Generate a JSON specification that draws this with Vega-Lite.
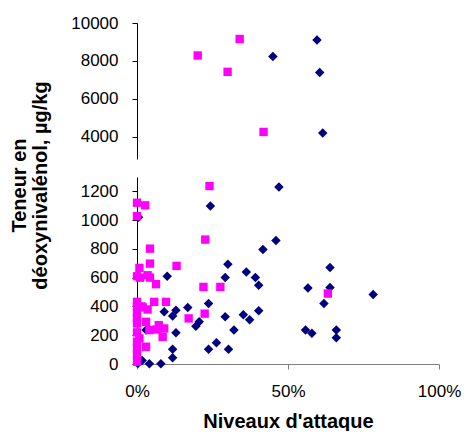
{
  "$schema": "https://vega.github.io/schema/vega-lite/v6.json",
  "padding": {"left": 9, "top": 14, "right": 2, "bottom": 0},
  "spacing": 18,
  "bounds": "flush",
  "config": {
    "view": {"stroke": null},
    "font": "Liberation Sans",
    "axis": {
      "labelFont": "Liberation Sans", "labelFontSize": 17, "labelColor": "#000000",
      "grid": false, "domainColor": "#000000", "tickColor": "#000000", "tickSize": 5,
      "titleFont": "Liberation Sans", "titleFontSize": 20, "titleFontWeight": "bold", "titleColor": "#000000"
    }
  },
  "datasets": {
    "pts": [
      {"p": "h", "s": "A", "x": 45.0, "y": 8240},
      {"p": "h", "s": "A", "x": 59.6, "y": 9100},
      {"p": "h", "s": "A", "x": 60.5, "y": 7400},
      {"p": "h", "s": "A", "x": 61.5, "y": 4210},
      {"p": "b", "s": "A", "x": 47.0, "y": 1230},
      {"p": "b", "s": "A", "x": 24.3, "y": 1098},
      {"p": "b", "s": "A", "x": 46.0, "y": 858},
      {"p": "b", "s": "A", "x": 41.7, "y": 796},
      {"p": "b", "s": "A", "x": 30.1, "y": 693},
      {"p": "b", "s": "A", "x": 36.2, "y": 640},
      {"p": "b", "s": "A", "x": 29.2, "y": 601},
      {"p": "b", "s": "A", "x": 39.2, "y": 601},
      {"p": "b", "s": "A", "x": 10.0, "y": 610},
      {"p": "b", "s": "A", "x": 40.3, "y": 548},
      {"p": "b", "s": "A", "x": 63.9, "y": 671},
      {"p": "b", "s": "A", "x": 56.6, "y": 529},
      {"p": "b", "s": "A", "x": 63.9, "y": 532},
      {"p": "b", "s": "A", "x": 61.9, "y": 421},
      {"p": "b", "s": "A", "x": 78.2, "y": 483},
      {"p": "b", "s": "A", "x": 23.7, "y": 421},
      {"p": "b", "s": "A", "x": 16.8, "y": 393},
      {"p": "b", "s": "A", "x": 12.9, "y": 374},
      {"p": "b", "s": "A", "x": 9.0, "y": 363},
      {"p": "b", "s": "A", "x": 11.8, "y": 333},
      {"p": "b", "s": "A", "x": 40.3, "y": 370},
      {"p": "b", "s": "A", "x": 29.2, "y": 328},
      {"p": "b", "s": "A", "x": 35.2, "y": 343},
      {"p": "b", "s": "A", "x": 37.3, "y": 308},
      {"p": "b", "s": "A", "x": 20.6, "y": 294},
      {"p": "b", "s": "A", "x": 19.5, "y": 262},
      {"p": "b", "s": "A", "x": 32.1, "y": 236},
      {"p": "b", "s": "A", "x": 12.9, "y": 217},
      {"p": "b", "s": "A", "x": 3.0, "y": 236},
      {"p": "b", "s": "A", "x": 26.3, "y": 148},
      {"p": "b", "s": "A", "x": 23.7, "y": 102},
      {"p": "b", "s": "A", "x": 30.3, "y": 102},
      {"p": "b", "s": "A", "x": 11.8, "y": 102},
      {"p": "b", "s": "A", "x": 11.8, "y": 44},
      {"p": "b", "s": "A", "x": 7.9, "y": 2},
      {"p": "b", "s": "A", "x": 4.1, "y": 2},
      {"p": "b", "s": "A", "x": 1.7, "y": 25},
      {"p": "b", "s": "A", "x": 0.5, "y": 1021},
      {"p": "b", "s": "A", "x": 55.8, "y": 236},
      {"p": "b", "s": "A", "x": 57.9, "y": 213},
      {"p": "b", "s": "A", "x": 66.0, "y": 236},
      {"p": "b", "s": "A", "x": 66.0, "y": 182},
      {"p": "b", "s": "A", "x": 0.3, "y": 3},
      {"p": "h", "s": "B", "x": 34.0, "y": 9160},
      {"p": "h", "s": "B", "x": 20.1, "y": 8290},
      {"p": "h", "s": "B", "x": 30.0, "y": 7430},
      {"p": "h", "s": "B", "x": 41.9, "y": 4265},
      {"p": "b", "s": "B", "x": 24.0, "y": 1237},
      {"p": "b", "s": "B", "x": 0.0, "y": 1121},
      {"p": "b", "s": "B", "x": 2.7, "y": 1103},
      {"p": "b", "s": "B", "x": 0.0, "y": 1028},
      {"p": "b", "s": "B", "x": 22.6, "y": 865},
      {"p": "b", "s": "B", "x": 4.3, "y": 802},
      {"p": "b", "s": "B", "x": 4.3, "y": 698},
      {"p": "b", "s": "B", "x": 0.8, "y": 668},
      {"p": "b", "s": "B", "x": 13.1, "y": 682},
      {"p": "b", "s": "B", "x": 0.0, "y": 610},
      {"p": "b", "s": "B", "x": 1.0, "y": 600},
      {"p": "b", "s": "B", "x": 3.5, "y": 617},
      {"p": "b", "s": "B", "x": 4.3, "y": 601},
      {"p": "b", "s": "B", "x": 6.3, "y": 555},
      {"p": "b", "s": "B", "x": 22.0, "y": 536},
      {"p": "b", "s": "B", "x": 27.6, "y": 536},
      {"p": "b", "s": "B", "x": 0.0, "y": 432},
      {"p": "b", "s": "B", "x": 5.7, "y": 432},
      {"p": "b", "s": "B", "x": 9.6, "y": 432},
      {"p": "b", "s": "B", "x": 1.5, "y": 400},
      {"p": "b", "s": "B", "x": 0.0, "y": 395},
      {"p": "b", "s": "B", "x": 1.9, "y": 393},
      {"p": "b", "s": "B", "x": 3.5, "y": 379},
      {"p": "b", "s": "B", "x": 0.0, "y": 356},
      {"p": "b", "s": "B", "x": 22.4, "y": 350},
      {"p": "b", "s": "B", "x": 0.0, "y": 320},
      {"p": "b", "s": "B", "x": 17.1, "y": 317},
      {"p": "b", "s": "B", "x": 3.0, "y": 293},
      {"p": "b", "s": "B", "x": 0.0, "y": 282},
      {"p": "b", "s": "B", "x": 7.2, "y": 270},
      {"p": "b", "s": "B", "x": 9.0, "y": 247},
      {"p": "b", "s": "B", "x": 6.5, "y": 240},
      {"p": "b", "s": "B", "x": 4.1, "y": 236},
      {"p": "b", "s": "B", "x": 0.0, "y": 220},
      {"p": "b", "s": "B", "x": 8.5, "y": 189},
      {"p": "b", "s": "B", "x": 0.8, "y": 178},
      {"p": "b", "s": "B", "x": 0.0, "y": 155},
      {"p": "b", "s": "B", "x": 3.0, "y": 120},
      {"p": "b", "s": "B", "x": 0.0, "y": 109},
      {"p": "b", "s": "B", "x": 0.0, "y": 62},
      {"p": "b", "s": "B", "x": 0.0, "y": 16},
      {"p": "b", "s": "B", "x": 63.2, "y": 490}
    ]
  },
  "vconcat": [
    {
      "width": 302,
      "height": 136,
      "data": {"name": "pts"},
      "transform": [{"filter": "datum.p == 'h'"}],
      "mark": {"type": "point", "filled": true, "opacity": 1},
      "encoding": {
        "x": {"field": "x", "type": "quantitative", "scale": {"domain": [0, 100], "nice": false}, "axis": null},
        "y": {"field": "y", "type": "quantitative", "scale": {"domain": [2840, 10000], "nice": false, "zero": false},
              "axis": {"values": [4000, 6000, 8000, 10000], "format": "d", "title": null, "labelPadding": 14, "minExtent": 70, "maxExtent": 70}},
        "color": {"field": "s", "type": "nominal", "scale": {"domain": ["A", "B"], "range": ["#000080", "#FF00FF"]}, "legend": null},
        "shape": {"field": "s", "type": "nominal", "scale": {"domain": ["A", "B"], "range": ["diamond", "square"]}, "legend": null},
        "size": {"field": "s", "type": "nominal", "scale": {"domain": ["A", "B"], "range": [90, 70]}, "legend": null}
      }
    },
    {
      "width": 302,
      "height": 187,
      "data": {"name": "pts"},
      "transform": [{"filter": "datum.p == 'b'"}],
      "mark": {"type": "point", "filled": true, "opacity": 1},
      "encoding": {
        "x": {"field": "x", "type": "quantitative", "scale": {"domain": [0, 100], "nice": false},
              "axis": {"values": [0, 50, 100], "labelExpr": "datum.value + '%'", "labelFlush": false, "title": "Niveaux d'attaque",
                       "domainColor": "#808080", "tickColor": "#808080", "labelPadding": 14, "titlePadding": 12}},
        "y": {"field": "y", "type": "quantitative", "scale": {"domain": [0, 1300], "nice": false},
              "axis": {"values": [0, 200, 400, 600, 800, 1000, 1200], "format": "d", "labelPadding": 14, "minExtent": 70, "maxExtent": 70,
                       "title": ["Teneur en", "déoxynivalénol, µg/kg"], "titleX": -108, "titleY": 8, "titleLineHeight": 21,
                       "titleAlign": "center", "titleBaseline": "bottom", "titleAngle": -90}},
        "color": {"field": "s", "type": "nominal", "scale": {"domain": ["A", "B"], "range": ["#000080", "#FF00FF"]}, "legend": null},
        "shape": {"field": "s", "type": "nominal", "scale": {"domain": ["A", "B"], "range": ["diamond", "square"]}, "legend": null},
        "size": {"field": "s", "type": "nominal", "scale": {"domain": ["A", "B"], "range": [90, 70]}, "legend": null}
      }
    }
  ]
}
